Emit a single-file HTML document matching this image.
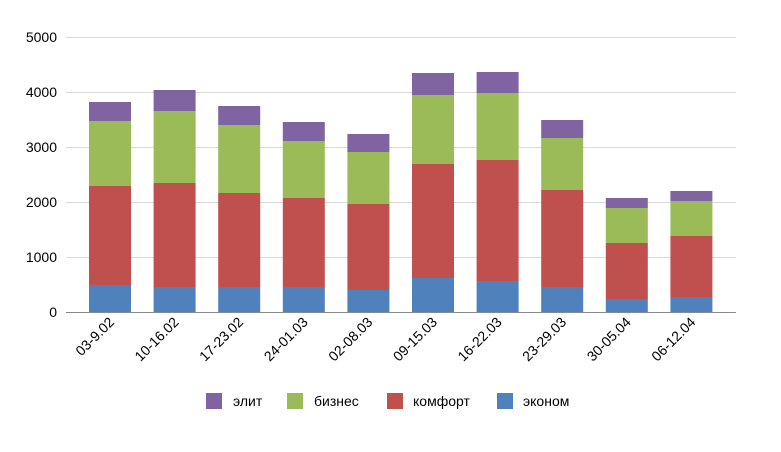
<!DOCTYPE html>
<html><head><meta charset="utf-8"><style>body{margin:0;background:#fff}svg{display:block;font-family:"Liberation Sans",sans-serif}</style></head><body>
<svg width="781" height="452" viewBox="0 0 781 452">
<g stroke="#d9d9d9" stroke-width="1">
<line x1="66" y1="37.5" x2="736" y2="37.5"/><line x1="66" y1="92.5" x2="736" y2="92.5"/><line x1="66" y1="147.5" x2="736" y2="147.5"/><line x1="66" y1="202.5" x2="736" y2="202.5"/><line x1="66" y1="257.5" x2="736" y2="257.5"/>
</g>
<g font-size="14" fill="#000" text-anchor="end">
<text x="57" y="42">5000</text><text x="57" y="97">4000</text><text x="57" y="152">3000</text><text x="57" y="207">2000</text><text x="57" y="262">1000</text><text x="57" y="317">0</text>
</g>
<g id="bars"></g>
<line x1="66" y1="312.5" x2="736" y2="312.5" stroke="#888" stroke-width="1"/>
<g id="labels" font-size="14" fill="#000"></g>
<g font-size="14" fill="#000">
<rect x="206" y="393" width="16" height="16" fill="#8064a2"/><text x="233" y="406">элит</text>
<rect x="287" y="393" width="16" height="16" fill="#9bbb59"/><text x="314" y="406">бизнес</text>
<rect x="387" y="393" width="16" height="16" fill="#c0504d"/><text x="413" y="406">комфорт</text>
<rect x="497" y="393" width="16" height="16" fill="#4f81bd"/><text x="523" y="406">эконом</text>
</g>
<script>
var d=[[285,186,121,102],[287,183,111,90],[287,193,125,106],[287,198,141,122],[290,204,152,134],[278,164,95,73],[281,160,93,72],[287,190,138,120],[299,243,208,198],[297,236,201,191]];
var L=["03-9.02","10-16.02","17-23.02","24-01.03","02-08.03","09-15.03","16-22.03","23-29.03","30-05.04","06-12.04"];
var c=["#4f81bd","#c0504d","#9bbb59","#8064a2"],ns="http://www.w3.org/2000/svg",b=document.getElementById("bars"),lb=document.getElementById("labels");
d.forEach(function(v,i){var cx=110+i*64.6,prev=312;for(var k=0;k<4;k++){var r=document.createElementNS(ns,"rect");r.setAttribute("x",cx-21);r.setAttribute("width",42);r.setAttribute("y",v[k]);r.setAttribute("height",prev-v[k]);r.setAttribute("fill",c[k]);b.appendChild(r);prev=v[k];}
var t=document.createElementNS(ns,"text");t.setAttribute("text-anchor","end");t.setAttribute("transform","translate("+(cx+5)+",323) rotate(-45)");t.textContent=L[i];lb.appendChild(t);});
</script>
</svg></body></html>
